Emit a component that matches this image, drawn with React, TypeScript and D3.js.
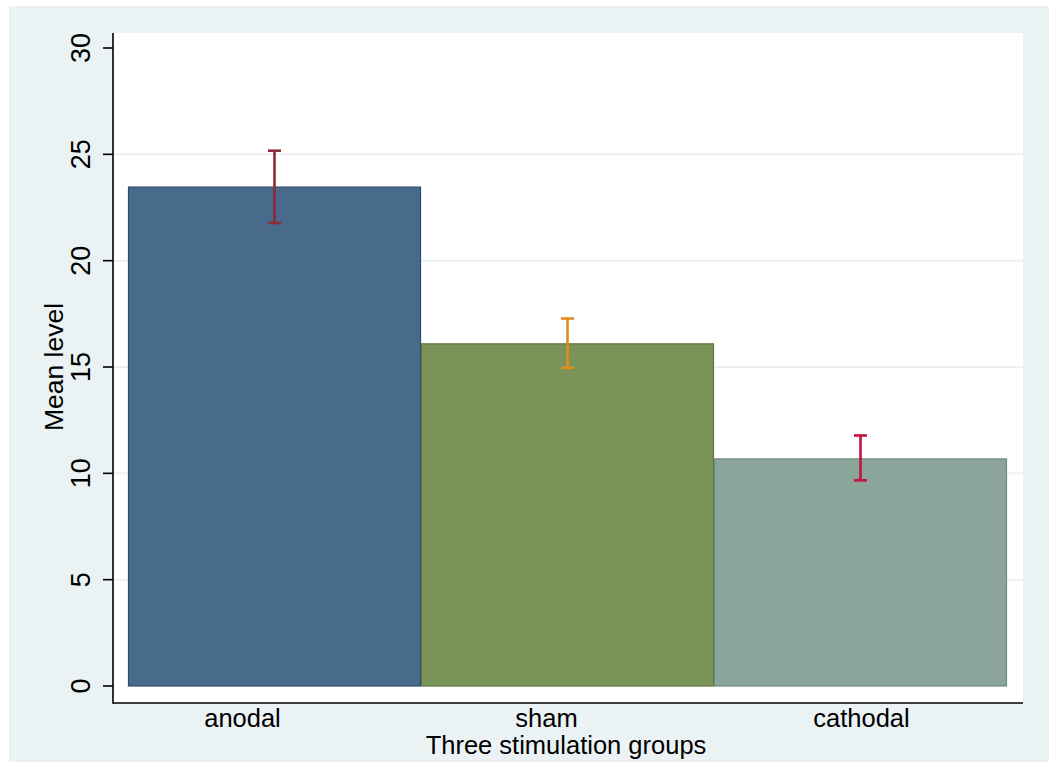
import React from "react";
import * as d3 from "d3";

const categories = ["anodal", "sham", "cathodal"];
const means = [23.46, 16.09, 10.68];
const ciLow = [21.77, 14.96, 9.67];
const ciHigh = [25.17, 17.28, 11.78];
const yTicks = [0, 5, 10, 15, 20, 25, 30];
const gridTicks = [5, 10, 15, 20, 25];

const barFill = ["#486a8b", "#7a9358", "#8ba59a"];
const barEdge = ["#2f4d6a", "#5d7741", "#6f8a7f"];
const errColor = ["#8e2a3a", "#e38a1c", "#c5123f"];
const labelOffset = [-32, -21, 1];

const W = 1052;
const H = 766;
const plot = { left: 113, right: 1023, top: 33, bottom: 703 };
const font = "Arial, 'Liberation Sans', sans-serif";

export default function App() {
  const y = d3.scaleLinear().domain([0, 30]).range([686, 48]);
  const x = d3.scaleBand().domain(categories).range([128, 1007]).padding(0);
  const bw = x.bandwidth();
  const cap = 13;

  return (
    <svg
      width={W}
      height={H}
      style={{ position: "absolute", left: 0, top: 0 }}
      fontFamily={font}
    >
      <rect x={0} y={0} width={W} height={H} fill="#ffffff" />
      <rect x={9} y={6} width={1040} height={756} fill="#eaf2f3" />
      <rect
        x={plot.left}
        y={plot.top}
        width={plot.right - plot.left}
        height={plot.bottom - plot.top}
        fill="#ffffff"
      />
      {gridTicks.map((t) => (
        <line
          key={"g" + t}
          x1={plot.left}
          x2={plot.right}
          y1={y(t)}
          y2={y(t)}
          stroke="#eaf2f3"
          strokeWidth={2}
        />
      ))}
      {categories.map((c, i) => (
        <rect
          key={c}
          x={x(c)! + 0.5}
          y={y(means[i])}
          width={bw - 1}
          height={y(0) - y(means[i])}
          fill={barFill[i]}
          stroke={barEdge[i]}
          strokeWidth={1.2}
        />
      ))}
      {categories.map((c, i) => {
        const cx = x(c)! + bw / 2;
        return (
          <g key={"e" + c} stroke={errColor[i]} strokeWidth={2.6}>
            <line x1={cx} x2={cx} y1={y(ciHigh[i])} y2={y(ciLow[i])} />
            <line x1={cx - cap / 2} x2={cx + cap / 2} y1={y(ciHigh[i])} y2={y(ciHigh[i])} />
            <line x1={cx - cap / 2} x2={cx + cap / 2} y1={y(ciLow[i])} y2={y(ciLow[i])} />
          </g>
        );
      })}
      <line x1={plot.left} x2={plot.left} y1={plot.top} y2={plot.bottom + 0.8} stroke="#000" strokeWidth={1.6} />
      <line x1={plot.left} x2={plot.right} y1={plot.bottom} y2={plot.bottom} stroke="#000" strokeWidth={1.6} />
      {yTicks.map((t) => (
        <g key={"t" + t}>
          <line x1={plot.left - 10} x2={plot.left} y1={y(t)} y2={y(t)} stroke="#000" strokeWidth={1.6} />
          <text
            transform={`translate(90,${y(t)}) rotate(-90)`}
            textAnchor="middle"
            fontSize={27}
            fill="#000"
          >
            {t}
          </text>
        </g>
      ))}
      {categories.map((c, i) => (
        <text
          key={"l" + c}
          x={x(c)! + bw / 2 + labelOffset[i]}
          y={727}
          textAnchor="middle"
          fontSize={25.5}
          fill="#000"
        >
          {c}
        </text>
      ))}
      <text x={566} y={754} textAnchor="middle" fontSize={25.5} fill="#000">
        Three stimulation groups
      </text>
      <text
        transform={`translate(63,${(y(0) + y(30)) / 2}) rotate(-90)`}
        textAnchor="middle"
        fontSize={26.5}
        fill="#000"
      >
        Mean level
      </text>
    </svg>
  );
}
